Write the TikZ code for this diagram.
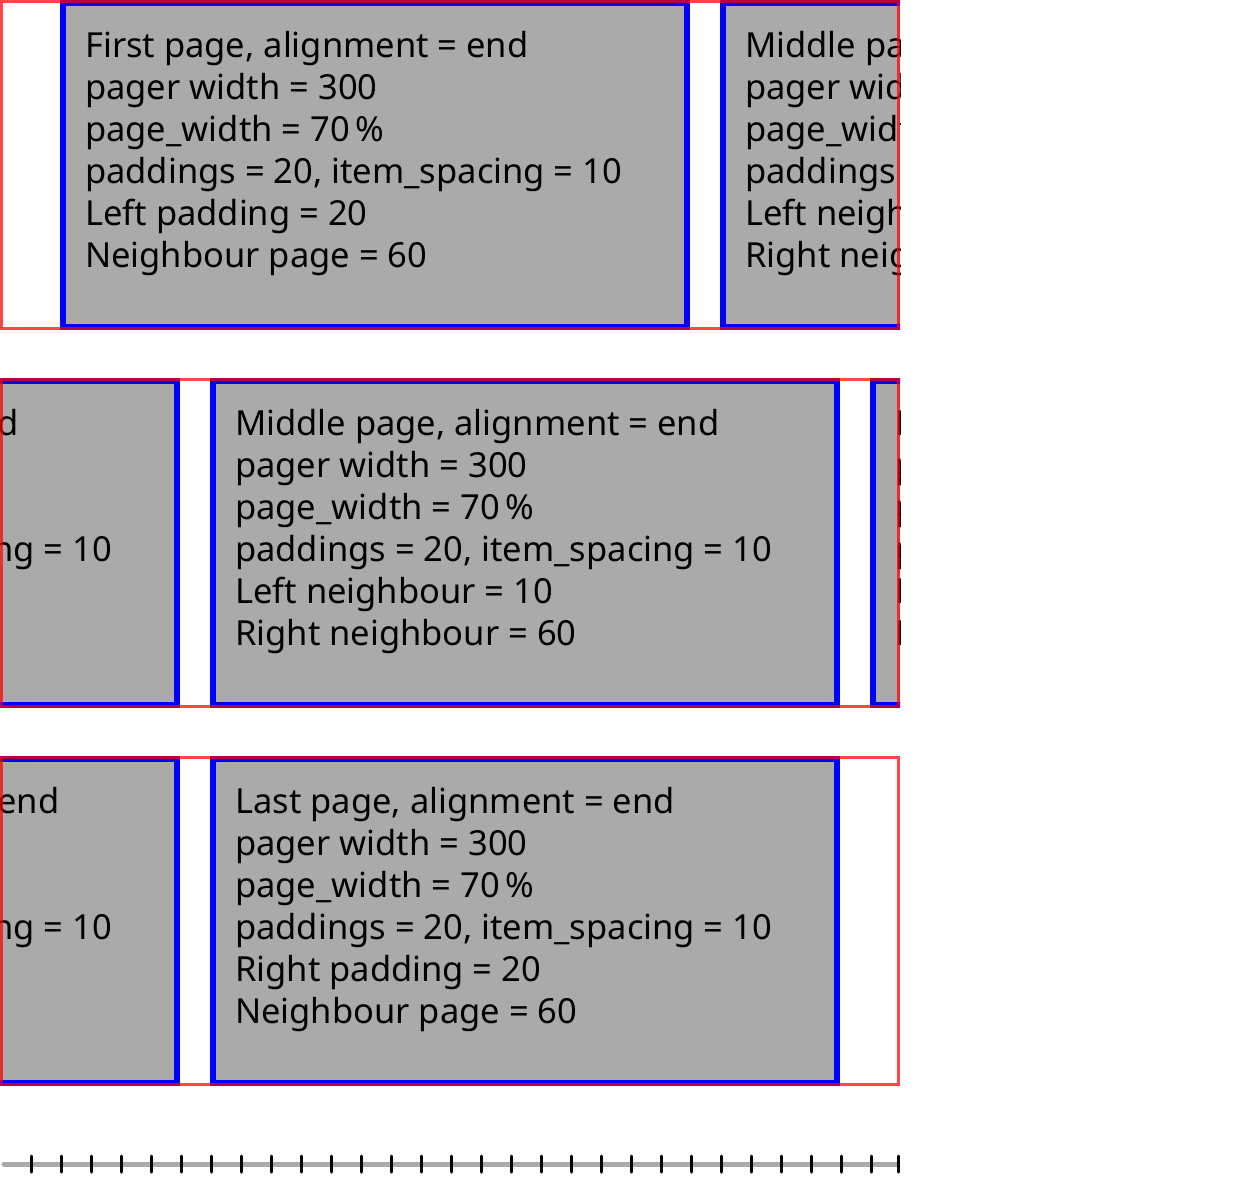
\documentclass[tikz,border=0pt]{standalone}
\usepackage{fontspec}
\setmainfont{Noto Sans}
\usetikzlibrary{positioning}

\definecolor{pagegray}{HTML}{AAAAAA}

\newcommand{\firsttext}{First page, alignment = end\\
  pager width = 300\\
  page\_width = 70\,\%\\
  paddings = 20, item\_spacing = 10\\
  Left padding = 20\\
  Neighbour page = 60}
\newcommand{\middletext}{Middle page, alignment = end\\
  pager width = 300\\
  page\_width = 70\,\%\\
  paddings = 20, item\_spacing = 10\\
  Left neighbour = 10\\
  Right neighbour = 60}
\newcommand{\lasttext}{Last page, alignment = end\\
  pager width = 300\\
  page\_width = 70\,\%\\
  paddings = 20, item\_spacing = 10\\
  Right padding = 20\\
  Neighbour page = 60}

\begin{document}
\begin{tikzpicture}[
  x=1pt, y=-1pt,
  pagebox/.style={draw=blue, line width=6pt, fill=pagegray},
  pagetext/.style={anchor=north west, inner sep=0pt, align=left,
    font=\fontsize{34.5}{42}\selectfont},
  pagerframe/.style={draw=red, draw opacity=0.73, line width=3pt},
  rulerline/.style={draw=pagegray, line width=5pt, line cap=round},
  rulertick/.style={draw=black, line width=3pt, line cap=round},
]
\useasboundingbox (0,0) rectangle (1242,1194);

% ── row 1: first page shown ─────────────────────────────────────────────────
\begin{scope}
  \clip (0,0) rectangle (900,330);
  \draw[pagebox] (63,3) rectangle (687,327);
  \node[pagetext] (first1) at (85,31) {\firsttext};
  \draw[pagebox] (723,3) rectangle (1347,327);
  \node[pagetext] (middle1) at (745,31) {\middletext};
\end{scope}
\draw[pagerframe] (1.5,1.5) rectangle (898.5,328.5);

% ── row 2: middle page shown ────────────────────────────────────────────────
\begin{scope}[yshift=-378pt]
  \clip (0,0) rectangle (900,330);
  \draw[pagebox] (-447,3) rectangle (177,327);
  \node[pagetext] (first2) at (-425,31) {\firsttext};
  \draw[pagebox] (213,3) rectangle (837,327);
  \node[pagetext] (middle2) at (235,31) {\middletext};
  \draw[pagebox] (873,3) rectangle (1497,327);
  \node[pagetext] (last2) at (895,31) {\lasttext};
\end{scope}
\draw[pagerframe] (1.5,379.5) rectangle (898.5,706.5);

% ── row 3: last page shown ──────────────────────────────────────────────────
\begin{scope}[yshift=-756pt]
  \clip (0,0) rectangle (900,330);
  \draw[pagebox] (-447,3) rectangle (177,327);
  \node[pagetext] (middle3) at (-425,31) {\middletext};
  \draw[pagebox] (213,3) rectangle (837,327);
  \node[pagetext] (last3) at (235,31) {\lasttext};
\end{scope}
\draw[pagerframe] (1.5,757.5) rectangle (898.5,1084.5);

% ── ruler ───────────────────────────────────────────────────────────────────
\draw[rulerline] (4,1164) -- (897.5,1164);
\foreach \i in {1,...,29}
  \draw[rulertick] (30*\i+1,1156) -- ++(0,16);
\draw[rulertick] (898.5,1156) -- ++(0,16);
\end{tikzpicture}
\end{document}
